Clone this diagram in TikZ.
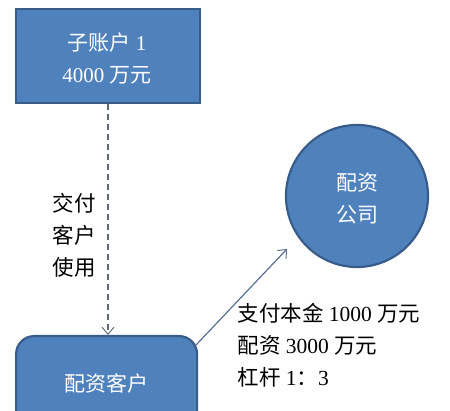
\documentclass[tikz,border=0pt]{standalone}
\usepackage{fontspec}
\setmainfont{Liberation Serif}
\newfontfamily\cjk{Noto Sans CJK SC}
\usetikzlibrary{arrows.meta}
\definecolor{boxfill}{HTML}{4F81BD}
\definecolor{boxline}{HTML}{385D8A}
\definecolor{arrline}{HTML}{5B6F94}
\definecolor{dashline}{HTML}{5F6878}
\begin{document}
\begin{tikzpicture}[x=1pt,y=-1pt,
  shapebox/.style={fill=boxfill,draw=boxline,line width=2.2pt},
  intext/.style={text=white,font=\fontsize{21}{32}\selectfont,align=center},
  outtext/.style={text=black,font=\fontsize{21.5}{32}\selectfont,align=left},
  openarrow/.style={-{Straight Barb[length=7pt,width=12pt,line width=1pt]}}]
\useasboundingbox (0,0) rectangle (450,411);
\begin{scope}
\clip (0,0) rectangle (450,411);
\node[shapebox,minimum width=184pt,minimum height=94pt,anchor=north west,inner sep=0pt] (acct) at (15,8) {};
\node[intext] (acctt) at (107,58) {{\cjk 子账户} 1\\4000 {\cjk 万元}};
\node[shapebox,minimum width=181pt,minimum height=110pt,anchor=north west,rounded corners=18pt,inner sep=0pt] (cust) at (15,335) {};
\node[intext] (custt) at (106,383) {\cjk 配资客户};
\node[shapebox,circle,minimum size=142pt,inner sep=0pt] (co) at (357,196) {};
\node[intext] (cot) at (357,198) {{\cjk 配资}\\{\cjk 公司}};
\end{scope}
\draw[dashline,dashed,line width=1.1pt,dash pattern=on 6pt off 4pt,openarrow] (acct.south -| 108,0) -- (cust.north -| 108,0);
\coordinate (s) at (196,345);
\coordinate (e) at (287,249);
\draw[arrline,line width=1.2pt,openarrow] (s) -- (e);
\node[outtext,anchor=west] (lbl1) at (49,235) {{\cjk 交付}\\{\cjk 客户}\\{\cjk 使用}};
\node[outtext,anchor=west] (lbl2) at (234,345) {{\cjk 支付本金} 1000 {\cjk 万元}\\{\cjk 配资} 3000 {\cjk 万元}\\{\cjk 杠杆} 1{\cjk ：}3};
\end{tikzpicture}
\end{document}
